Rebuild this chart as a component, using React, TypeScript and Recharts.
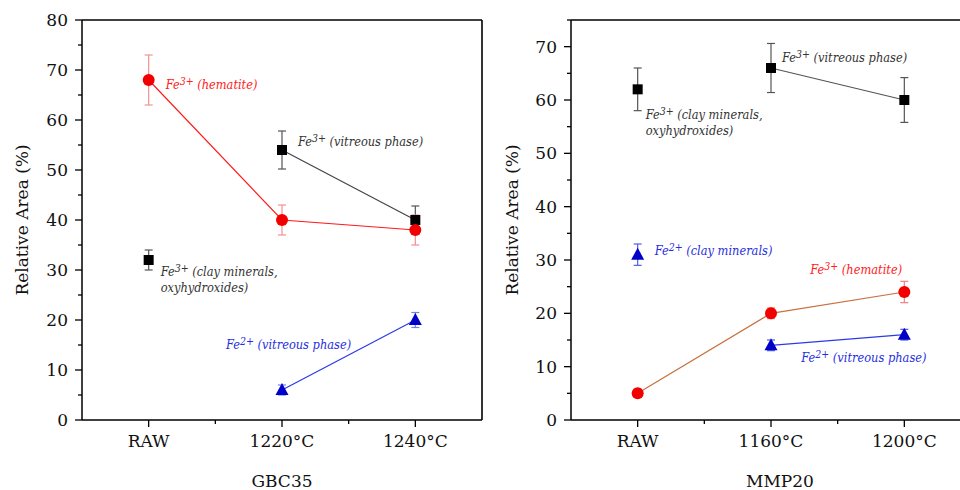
import { LineChart, Line, XAxis, YAxis, ErrorBar, ReferenceDot } from "recharts";

// GBC35 panel
const gbcCats = ["RAW", "1220°C", "1240°C"];
const gbcHematite = [68, 40, 38];
const gbcHematiteErr = [5, 3, 3];
const gbcVitreous3 = [null, 54, 40];
const gbcVitreous3Err = [null, 3.8, 2.8];
const gbcClay3 = [32, null, null];
const gbcClay3Err = [2, null, null];
const gbcVitreous2 = [null, 6, 20];
const gbcVitreous2Err = [null, 1, 1.5];
const gbcYTicks = [0, 5, 10, 15, 20, 25, 30, 35, 40, 45, 50, 55, 60, 65, 70, 75, 80];

// MMP20 panel
const mmpCats = ["RAW", "1160°C", "1200°C"];
const mmpClay3 = [62, null, null];
const mmpClay3Err = [4, null, null];
const mmpVitreous3 = [null, 66, 60];
const mmpVitreous3Err = [null, 4.6, 4.2];
const mmpClay2 = [31, null, null];
const mmpClay2Err = [2, null, null];
const mmpHematite = [5, 20, 24];
const mmpHematiteErr = [0.8, 1, 2];
const mmpVitreous2 = [null, 14, 16];
const mmpVitreous2Err = [null, 1, 1];
const mmpYTicks = [0, 5, 10, 15, 20, 25, 30, 35, 40, 45, 50, 55, 60, 65, 70, 75];

const xTicks = [0.5, 1, 1.5, 2, 2.5, 3];

const RED = "#f20000";
const BLACK = "#000000";
const BLUE = "#0000c8";
const FONT = "'DejaVu Serif', serif";
const NOTE_FONT = "'DejaVu Serif Condensed', 'DejaVu Serif', serif";
const CHART_W = 490;
const CHART_H = 490;
const TOP = 20;
const X_AXIS_H = 70;

type Series = {
  key: string;
  values: (number | null)[];
  errors: (number | null)[];
  shape: "circle" | "square" | "triangle";
  fill: string;
  line: string;
  err: string;
};

type Note = {
  cat: number;
  value: number;
  charge: string;
  lines: string[];
  color: string;
  dx: number;
  dy: number;
};

const gbcSeries: Series[] = [
  { key: "clay3", values: gbcClay3, errors: gbcClay3Err, shape: "square", fill: BLACK, line: "#444", err: "#555" },
  { key: "vit3", values: gbcVitreous3, errors: gbcVitreous3Err, shape: "square", fill: BLACK, line: "#444", err: "#555" },
  { key: "hem", values: gbcHematite, errors: gbcHematiteErr, shape: "circle", fill: RED, line: "#ff1a1a", err: "#f49090" },
  { key: "vit2", values: gbcVitreous2, errors: gbcVitreous2Err, shape: "triangle", fill: BLUE, line: "#2a3ae8", err: "#7080ea" },
];

const mmpSeries: Series[] = [
  { key: "clay3", values: mmpClay3, errors: mmpClay3Err, shape: "square", fill: BLACK, line: "#444", err: "#555" },
  { key: "vit3", values: mmpVitreous3, errors: mmpVitreous3Err, shape: "square", fill: BLACK, line: "#555", err: "#555" },
  { key: "clay2", values: mmpClay2, errors: mmpClay2Err, shape: "triangle", fill: BLUE, line: "#2a3ae8", err: "#5060e0" },
  { key: "hem", values: mmpHematite, errors: mmpHematiteErr, shape: "circle", fill: RED, line: "#c8703f", err: "#f08080" },
  { key: "vit2", values: mmpVitreous2, errors: mmpVitreous2Err, shape: "triangle", fill: BLUE, line: "#2a3ae8", err: "#5060e0" },
];

const gbcNotes: Note[] = [
  { cat: 0, value: 68, charge: "3+", lines: [" (hematite)"], color: "#ff2020", dx: 17, dy: 4 },
  { cat: 1, value: 54, charge: "3+", lines: [" (vitreous phase)"], color: "#333", dx: 16, dy: -9 },
  { cat: 0, value: 32, charge: "3+", lines: [" (clay minerals,", "oxyhydroxides)"], color: "#333", dx: 12, dy: 11 },
  { cat: 1, value: 6, charge: "2+", lines: [" (vitreous phase)"], color: "#1f2fe0", dx: -56, dy: -46 },
];

const mmpNotes: Note[] = [
  { cat: 1, value: 66, charge: "3+", lines: [" (vitreous phase)"], color: "#333", dx: 11, dy: -11 },
  { cat: 0, value: 62, charge: "3+", lines: [" (clay minerals,", "oxyhydroxides)"], color: "#333", dx: 8, dy: 25 },
  { cat: 0, value: 31, charge: "2+", lines: [" (clay minerals)"], color: "#1f2fe0", dx: 17, dy: -4 },
  { cat: 2, value: 24, charge: "3+", lines: [" (hematite)"], color: "#ff2020", dx: -94, dy: -23 },
  { cat: 2, value: 16, charge: "2+", lines: [" (vitreous phase)"], color: "#1f2fe0", dx: -103, dy: 23 },
];

const makeDot = (shape: Series["shape"], fill: string) => (p: any) => {
  const { cx, cy, index } = p;
  const k = `d${index}`;
  if (cx == null || cy == null || isNaN(cx) || isNaN(cy) || p.value == null) return <g key={k} />;
  if (shape === "circle") return <circle key={k} cx={cx} cy={cy} r={6} fill={fill} />;
  if (shape === "square") return <rect key={k} x={cx - 5} y={cy - 5} width={10} height={10} fill={fill} />;
  return <polygon key={k} points={`${cx},${cy - 7} ${cx - 6.5},${cy + 5} ${cx + 6.5},${cy + 5}`} fill={fill} />;
};

function renderNote(p: any, n: Note) {
  const vb = p.viewBox || {};
  const cx = vb.x + (vb.width || 0) / 2 + n.dx;
  const cy = vb.y + (vb.height || 0) / 2 + n.dy;
  const style = { fontFamily: NOTE_FONT, fontStyle: "italic" as const, fontStretch: "condensed", fontSize: 12.7 };
  return (
    <g>
      <text x={cx} y={cy + 4.5} fill={n.color} style={style}>
        <tspan>Fe</tspan>
        <tspan dy={-4} fontSize={10.5}>{n.charge}</tspan>
        <tspan dy={4}>{n.lines[0]}</tspan>
      </text>
      {n.lines.slice(1).map((l, i) => (
        <text key={i} x={cx} y={cy + 4.5 + 16 * (i + 1)} fill={n.color} style={style}>
          {l}
        </text>
      ))}
    </g>
  );
}

function Panel(props: {
  cats: string[];
  series: Series[];
  notes: Note[];
  yTicks: number[];
  title: string;
  left: number;
  yWidth: number;
  right: number;
  titleDx: number;
}) {
  const { cats, series, notes, yTicks, title, left, yWidth, right, titleDx } = props;
  const yMax = yTicks[yTicks.length - 1];
  const plotW = CHART_W - yWidth - right;
  const plotH = CHART_H - TOP - X_AXIS_H;
  const rows = cats.map((c, i) => {
    const r: any = { x: i + 0.5, cat: c };
    series.forEach((s) => {
      r[s.key] = s.values[i];
      r[s.key + "Err"] = s.errors[i];
    });
    return r;
  });

  const xTick = (p: any) => {
    const v = p.payload.value;
    if (v === 3) {
      // right edge of the plot box
      return (
        <g key="xt-edge">
          <line x1={p.x} x2={p.x} y1={p.y} y2={p.y - plotH} stroke="#000" strokeWidth={1.6} />
        </g>
      );
    }
    const major = v % 1 !== 0;
    return (
      <g key={`xt${v}`}>
        <line x1={p.x} x2={p.x} y1={p.y} y2={p.y + (major ? 7 : 4)} stroke="#000" strokeWidth={1.3} />
        {major && (
          <text x={p.x} y={p.y + 21} textAnchor="middle" dominantBaseline="central" fill="#111" style={{ fontFamily: FONT, fontSize: 17 }}>
            {cats[Math.floor(v)]}
          </text>
        )}
      </g>
    );
  };

  const yTick = (p: any) => {
    const v = p.payload.value;
    const major = v % 10 === 0;
    return (
      <g key={`yt${v}`}>
        {v === yMax && <line x1={p.x} x2={p.x + plotW} y1={p.y} y2={p.y} stroke="#000" strokeWidth={1.6} />}
        <line x1={p.x - (major ? 7 : 4)} x2={p.x} y1={p.y} y2={p.y} stroke="#000" strokeWidth={1.3} />
        {major && (
          <text x={p.x - 14} y={p.y} textAnchor="end" dominantBaseline="central" fill="#111" style={{ fontFamily: FONT, fontSize: 17 }}>
            {v}
          </text>
        )}
      </g>
    );
  };

  return (
    <div style={{ position: "absolute", left, top: 0, width: CHART_W, height: CHART_H }}>
      <LineChart width={CHART_W} height={CHART_H} data={rows} margin={{ top: TOP, right, left: 0, bottom: 0 }}>
        <XAxis
          type="number"
          dataKey="x"
          domain={[0, 3]}
          ticks={xTicks}
          interval={0}
          height={X_AXIS_H}
          tickSize={0}
          tickMargin={0}
          tickLine={false}
          axisLine={{ stroke: "#000", strokeWidth: 1.5 }}
          tick={xTick}
          label={{
            content: () => (
              <text
                x={yWidth + plotW / 2 + titleDx}
                y={TOP + plotH + 61}
                textAnchor="middle"
                dominantBaseline="central"
                fill="#111"
                style={{ fontFamily: FONT, fontSize: 17 }}
              >
                {title}
              </text>
            ),
          }}
        />
        <YAxis
          type="number"
          domain={[0, yMax]}
          ticks={yTicks}
          interval={0}
          width={yWidth}
          tickSize={0}
          tickMargin={0}
          tickLine={false}
          axisLine={{ stroke: "#000", strokeWidth: 1.5 }}
          tick={yTick}
          label={{
            content: () => {
              const cx = 22;
              const cy = TOP + plotH / 2;
              return (
                <text x={cx} y={cy} transform={`rotate(-90, ${cx}, ${cy})`} textAnchor="middle" dominantBaseline="central" fill="#111" style={{ fontFamily: FONT, fontSize: 17 }}>
                  Relative Area (%)
                </text>
              );
            },
          }}
        />
        {series.map((s) => (
          <Line
            key={s.key}
            dataKey={s.key}
            type="linear"
            stroke={s.line}
            strokeWidth={1.2}
            connectNulls={false}
            dot={makeDot(s.shape, s.fill)}
            activeDot={false}
            isAnimationActive={false}
          >
            <ErrorBar dataKey={s.key + "Err"} width={4} stroke={s.err} strokeWidth={1.2} direction="y" />
          </Line>
        ))}
        {notes.map((n, i) => (
          <ReferenceDot
            key={`n${i}`}
            x={n.cat + 0.5}
            y={n.value}
            r={1}
            fill="none"
            stroke="none"
            ifOverflow="visible"
            label={{ content: (p: any) => renderNote(p, n) }}
          />
        ))}
      </LineChart>
    </div>
  );
}

export default function App() {
  return (
    <div style={{ position: "absolute", left: 0, top: 0, width: 960, height: 490, overflow: "hidden", background: "#fff" }}>
      <Panel cats={gbcCats} series={gbcSeries} notes={gbcNotes} yTicks={gbcYTicks} title="GBC35" left={0} yWidth={82} right={8} titleDx={0} />
      <Panel cats={mmpCats} series={mmpSeries} notes={mmpNotes} yTicks={mmpYTicks} title="MMP20" left={490} yWidth={81} right={9} titleDx={9} />
    </div>
  );
}
